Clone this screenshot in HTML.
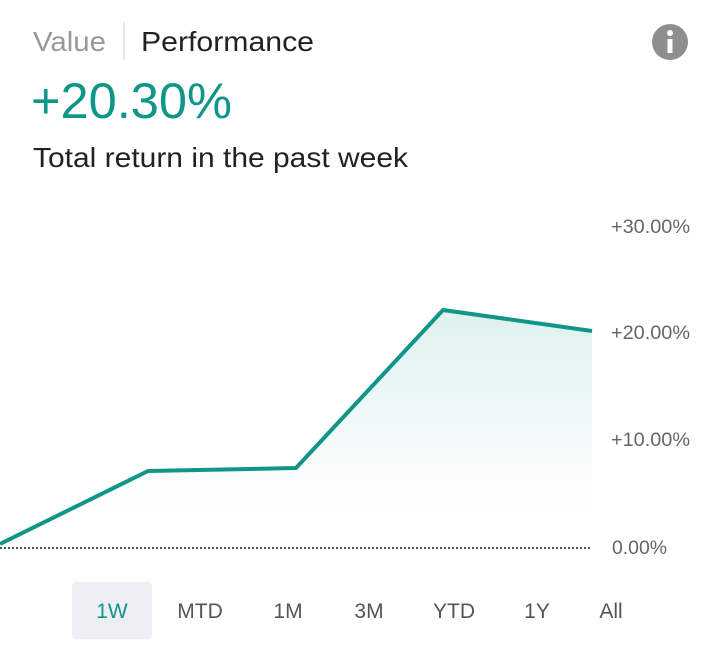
<!DOCTYPE html>
<html><head><meta charset="utf-8"><style>
body{margin:0;background:#fff;width:719px;height:656px;overflow:hidden;font-family:"Liberation Sans",sans-serif}
</style></head><body>
<svg width="719" height="656" viewBox="0 0 719 656" xmlns="http://www.w3.org/2000/svg" font-family="Liberation Sans, sans-serif">
<defs>
<linearGradient id="g" x1="0" y1="310" x2="0" y2="515" gradientUnits="userSpaceOnUse">
<stop offset="0" stop-color="#009688" stop-opacity="0.13"/>
<stop offset="1" stop-color="#009688" stop-opacity="0"/>
</linearGradient>
</defs>
<text x="33" y="51" font-size="28" fill="#999" textLength="73" lengthAdjust="spacingAndGlyphs">Value</text>
<line x1="124" y1="22" x2="124" y2="60" stroke="#ccc" stroke-width="1"/>
<text x="141" y="51" font-size="28" fill="#222" textLength="173" lengthAdjust="spacingAndGlyphs">Performance</text>
<circle cx="670" cy="42" r="18" fill="#8e8e8e"/>
<rect x="667.5" y="39" width="5" height="14" fill="#fff"/>
<circle cx="670" cy="33" r="3" fill="#fff"/>
<text x="31" y="118" font-size="50" fill="#0f9688" textLength="201" lengthAdjust="spacingAndGlyphs">+20.30%</text>
<text x="33" y="167" font-size="28" fill="#222" textLength="375" lengthAdjust="spacingAndGlyphs">Total return in the past week</text>
<polygon points="0,544 148,471 296,468 443,310 592,331 592,548 0,548" fill="url(#g)"/>
<polyline points="0,544 148,471 296,468 443,310 592,331" fill="none" stroke="#0f9688" stroke-width="4" stroke-linejoin="round"/>
<line x1="0" y1="548" x2="592" y2="548" stroke="#555" stroke-width="2" stroke-dasharray="2,2"/>
<g font-size="19" fill="#666">
<text x="611" y="233" textLength="79" lengthAdjust="spacingAndGlyphs">+30.00%</text>
<text x="611" y="339" textLength="79" lengthAdjust="spacingAndGlyphs">+20.00%</text>
<text x="611" y="446" textLength="79" lengthAdjust="spacingAndGlyphs">+10.00%</text>
<text x="612" y="554" textLength="55" lengthAdjust="spacingAndGlyphs">0.00%</text>
</g>
<rect x="72" y="582" width="80" height="57" rx="4" fill="#eeeff4"/>
<g font-size="21" fill="#555" text-anchor="middle">
<text x="112" y="618" fill="#0f9688">1W</text>
<text x="200" y="618">MTD</text>
<text x="288" y="618">1M</text>
<text x="369" y="618">3M</text>
<text x="454" y="618">YTD</text>
<text x="537" y="618">1Y</text>
<text x="611" y="618">All</text>
</g>
</svg>
</body></html>
